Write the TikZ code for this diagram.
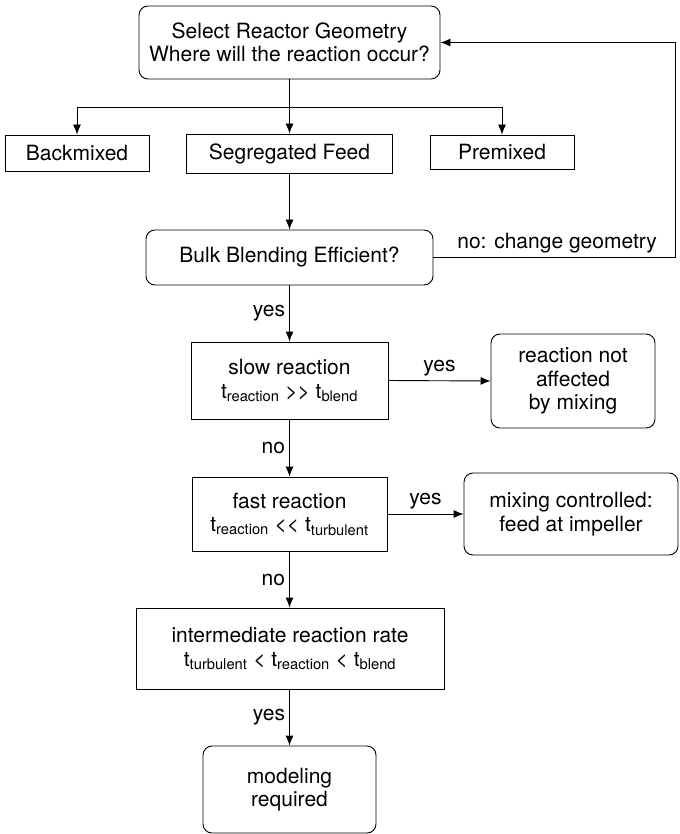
\documentclass[tikz,border=0pt]{standalone}
\usepackage{fontspec}
\setmainfont{TeX Gyre Heros}
\usepackage{tikz}
\usetikzlibrary{arrows.meta}
\usetikzlibrary{calc}
\newcommand{\tsub}[1]{t\textsubscript{#1}}

\begin{document}
\begin{tikzpicture}[x=1pt, y=-1pt, >={Latex[length=10pt,width=8pt]}, line width=0.9pt,
		every node/.style={font=\fontsize{21}{23.5}\selectfont},
		rstep/.style={draw, rounded corners=9pt, align=center, inner sep=0pt},
		sstep/.style={draw, align=center, inner sep=0pt},
		lbl/.style={inner sep=4pt}]
			\useasboundingbox (0,0) rectangle (679,834);
			%geometry
			\node at (289.5,42.5) (geo) [rstep, minimum width=301pt, minimum height=73pt] {Select Reactor Geometry\\Where will the reaction occur?};
			\coordinate (split) at (289.5,107);
			%feed options
			\node at (77,153) (back) [sstep, minimum width=144pt, minimum height=36pt] {Backmixed};
			\node at (289.5,153.5) (seg) [sstep, minimum width=206pt, minimum height=39pt] {Segregated Feed};
			\node at (502,152) (pre) [sstep, minimum width=144pt, minimum height=34pt] {Premixed};
			%blending
			\node at (289.5,257.5) (bulk) [rstep, minimum width=287pt, minimum height=55pt] {Bulk Blending Efficient?};
			\coordinate (fb) at (675,0);
			%time scales
			\node at (289.5,380.5) (slow) [sstep, minimum width=197pt, minimum height=77pt] {slow reaction\\\tsub{reaction} >{}> \tsub{blend}};
			\node at (573,381) (notaff) [rstep, minimum width=164pt, minimum height=94pt] {reaction not\\affected\\by mixing};
			\node at (289.5,514) (fast) [sstep, minimum width=195pt, minimum height=74pt] {fast reaction\\\tsub{reaction} <{}< \tsub{turbulent}};
			\node at (571,514) (mixctl) [rstep, minimum width=214pt, minimum height=82pt] {mixing controlled:\\feed at impeller};
			\node at (290,648.5) (inter) [sstep, minimum width=308pt, minimum height=81pt] {intermediate reaction rate\\\tsub{turbulent} < \tsub{reaction} < \tsub{blend}};
			\node at (289.5,789.5) (model) [rstep, minimum width=173pt, minimum height=87pt] {modeling\\required};

			%arrows
			\draw (geo.south) -- (split);
			\draw [->] (split) -| (back.north);
			\draw [->] (split) -- (seg.north);
			\draw [->] (split) -| (pre.north);
			\draw [->] (seg.south) -- (bulk.north);
			\draw [->] (bulk.east) -| (fb |- geo.east) node [pos=0.256, above, lbl] {no: change geometry} -- (geo.east);
			\draw [->] (bulk.south) -- (slow.north) node [midway, left, lbl] {yes};
			\draw [->] (slow.east) -- (notaff.west) node [midway, above, lbl] {yes};
			\draw [->] (slow.south) -- (fast.north) node [midway, left, lbl] {no};
			\draw [->] (fast.east) -- (mixctl.west) node [midway, above, lbl] {yes};
			\draw [->] (fast.south) -- (fast.south |- inter.north) node [midway, left, lbl] {no};
			\draw [->] (fast.south |- inter.south) -- (model.north) node [midway, left, lbl] {yes};
		\end{tikzpicture}
\end{document}
